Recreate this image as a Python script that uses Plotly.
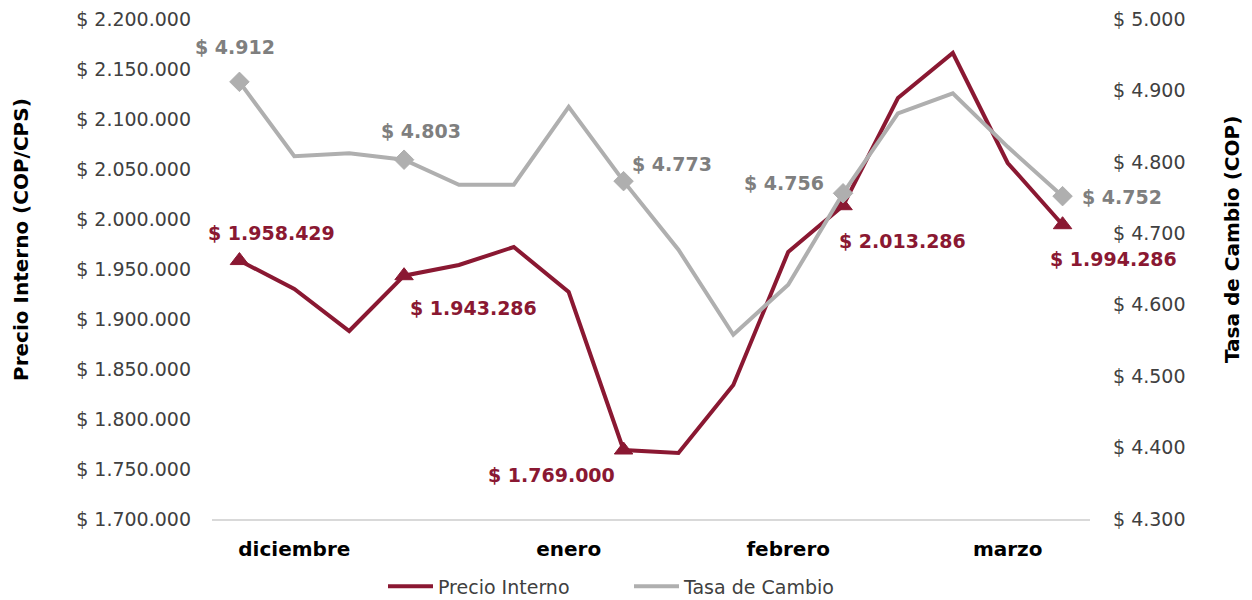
import plotly.graph_objects as go

# ---- data ----
semanas = list(range(16))
precio_interno = [1958429, 1930000, 1888000, 1943286, 1954000, 1972000, 1927000, 1769000,
                  1766000, 1834000, 1967000, 2013286, 2121000, 2166000, 2056000, 1994286]
tasa_cambio = [4912, 4808, 4812, 4803, 4768, 4768, 4877, 4773,
               4677, 4558, 4628, 4756, 4868, 4896, 4821, 4752]
puntos_etiquetados = [0, 3, 7, 11, 15]
mes_idx = [1, 6, 10, 14]
mes_labels = ["diciembre", "enero", "febrero", "marzo"]
y1_ticks = list(range(1700000, 2200001, 50000))
y2_ticks = list(range(4300, 5001, 100))

# label offsets (pixels) for annotated points
precio_shift = [(32, 28), (69, -32), (-72, -25), (59, -35), (51, -34)]
tasa_shift = [(-4, 35), (17, 29), (48, 17), (-59, 10), (59, -1)]

MAROON = "#8A1832"
GRAY = "#AFAFAF"
FONT = "DejaVu Sans"


def fmt(v):
    return "$ " + f"{v:,.0f}".replace(",", ".")


fig = go.Figure()

fig.add_trace(go.Scatter(
    x=semanas, y=precio_interno, name="Precio Interno", mode="lines",
    line=dict(color=MAROON, width=4), yaxis="y",
))
fig.add_trace(go.Scatter(
    x=[semanas[i] for i in puntos_etiquetados],
    y=[precio_interno[i] for i in puntos_etiquetados],
    mode="markers", showlegend=False, yaxis="y",
    marker=dict(symbol="triangle-up", size=16, color=MAROON, opacity=1,
                line=dict(width=1, color=MAROON)),
))
fig.add_trace(go.Scatter(
    x=semanas, y=tasa_cambio, name="Tasa de Cambio", mode="lines",
    line=dict(color=GRAY, width=4), yaxis="y2",
))
fig.add_trace(go.Scatter(
    x=[semanas[i] for i in puntos_etiquetados],
    y=[tasa_cambio[i] for i in puntos_etiquetados],
    mode="markers", showlegend=False, yaxis="y2",
    marker=dict(symbol="diamond", size=15, color=GRAY, opacity=1,
                line=dict(width=1, color=GRAY)),
))

annotations = []
for k, i in enumerate(puntos_etiquetados):
    dx, dy = precio_shift[k]
    annotations.append(dict(
        x=semanas[i], y=precio_interno[i], xref="x", yref="y",
        text=fmt(precio_interno[i]), showarrow=False, xshift=dx, yshift=dy,
        font=dict(family=FONT, size=19, color=MAROON, weight="bold"),
    ))
    dx, dy = tasa_shift[k]
    annotations.append(dict(
        x=semanas[i], y=tasa_cambio[i], xref="x", yref="y2",
        text=fmt(tasa_cambio[i]), showarrow=False, xshift=dx, yshift=dy,
        font=dict(family=FONT, size=19, color="#7F7F7F", weight="bold"),
    ))

# axis titles
annotations.append(dict(
    text="<b>Precio Interno (COP/CPS)</b>", xref="paper", yref="paper",
    x=(21 - 212) / 878, y=(519 - 240) / 500, textangle=-90, showarrow=False,
    xanchor="center", yanchor="middle",
    font=dict(family=FONT, size=20, color="#000000"),
))
annotations.append(dict(
    text="<b>Tasa de Cambio (COP)</b>", xref="paper", yref="paper",
    x=(1232 - 212) / 878, y=(519 - 240) / 500, textangle=-90, showarrow=False,
    xanchor="center", yanchor="middle",
    font=dict(family=FONT, size=20, color="#000000"),
))

fig.update_layout(
    width=1252, height=600,
    margin=dict(l=212, r=162, t=19, b=81, autoexpand=False),
    paper_bgcolor="white", plot_bgcolor="white",
    font=dict(family=FONT, size=19, color="#404040"),
    xaxis=dict(
        range=[-0.5, 15.5], tickmode="array", tickvals=mes_idx, ticktext=mes_labels,
        showgrid=False, zeroline=False, showline=True, linecolor="#D9D9D9", linewidth=2,
        ticks="", tickfont=dict(family=FONT, size=20, color="#000000", weight="bold"),
        ticklabelstandoff=11,
    ),
    yaxis=dict(
        range=[1700000, 2200000], tickmode="array", tickvals=y1_ticks,
        ticktext=[fmt(v) for v in y1_ticks],
        showgrid=False, zeroline=False, showline=False, ticks="",
        tickfont=dict(family=FONT, size=19, color="#404040"),
        ticklabelstandoff=20,
    ),
    yaxis2=dict(
        range=[4300, 5000], tickmode="array", tickvals=y2_ticks,
        ticktext=[fmt(v) for v in y2_ticks],
        overlaying="y", side="right",
        showgrid=False, zeroline=False, showline=False, ticks="",
        tickfont=dict(family=FONT, size=19, color="#404040"),
        ticklabelstandoff=22,
    ),
    legend=dict(
        orientation="h", x=(383 - 212) / 878, xanchor="left", y=-0.135, yanchor="middle",
        font=dict(family=FONT, size=19, color="#404040"),
        bgcolor="rgba(0,0,0,0)", entrywidth=186, entrywidthmode="pixels",
        itemwidth=45,
    ),
    annotations=annotations,
)

fig.write_html("out.html")
